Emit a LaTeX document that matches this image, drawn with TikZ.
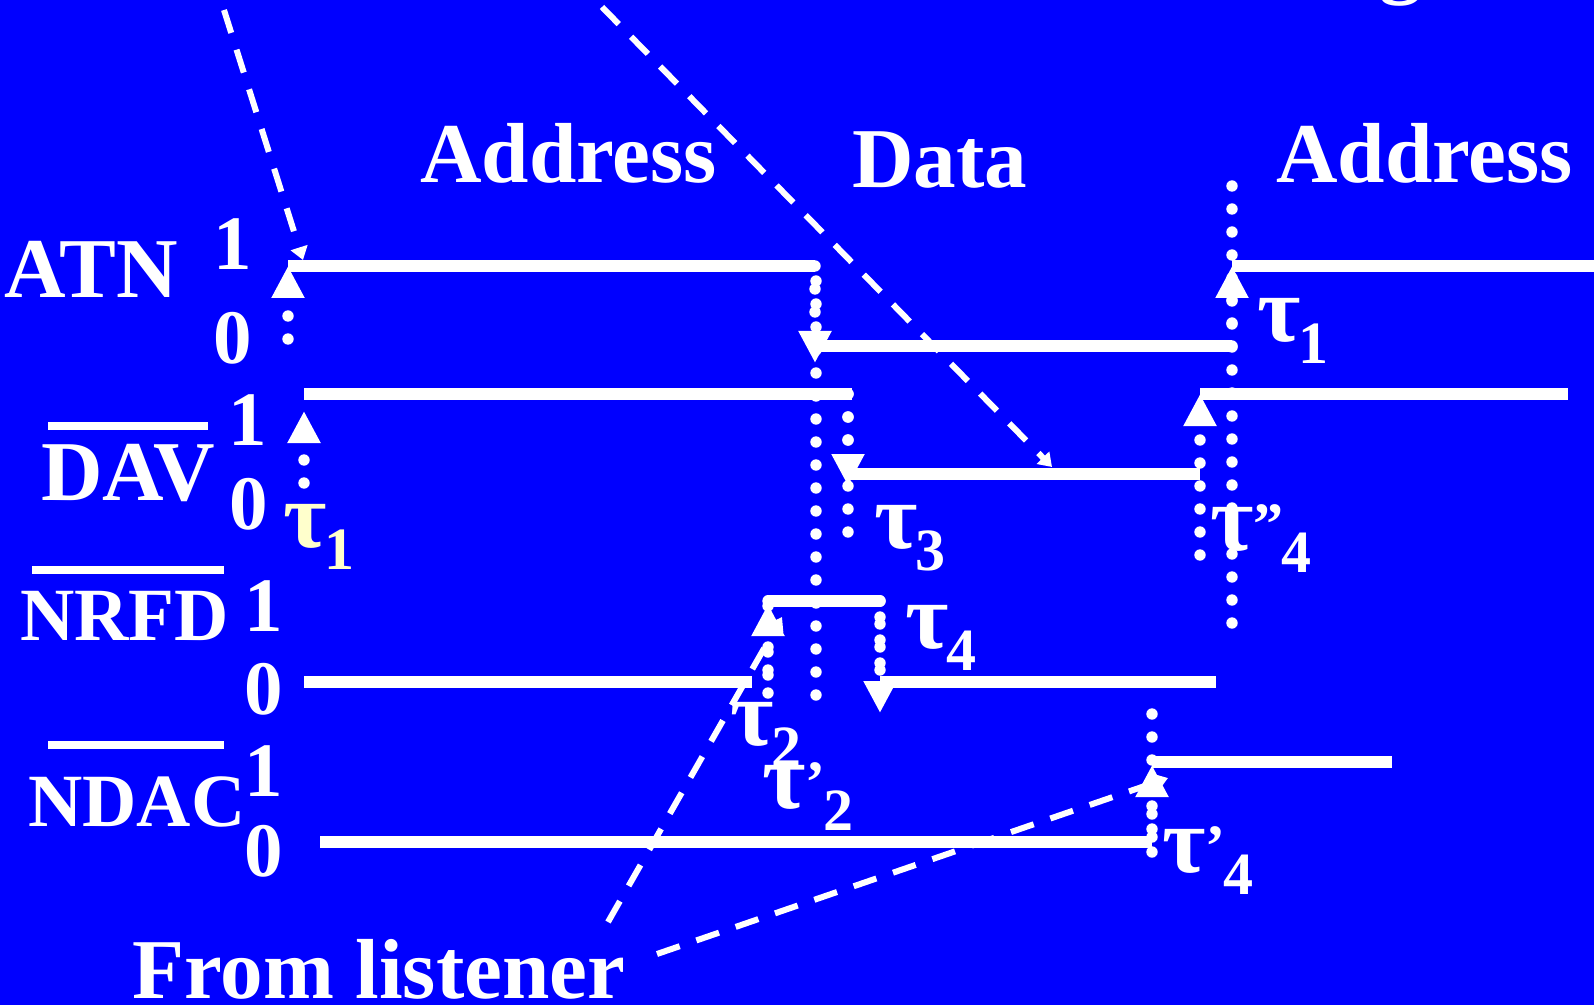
\documentclass[tikz,border=0pt]{standalone}
\usepackage{fontspec}
\setmainfont{Liberation Serif}
\usetikzlibrary{arrows.meta}
\definecolor{bluebg}{HTML}{0000FF}
\definecolor{paleyellow}{HTML}{FFFFCC}
\newcommand{\primelab}[1]{\raisebox{3pt}{\fontsize{30}{30}\selectfont #1}}
\newcommand{\taulab}[2]{{\fontsize{47}{47}\selectfont τ}#1\hspace{-1pt}\raisebox{-11pt}{\fontsize{30}{30}\selectfont #2}}
\tikzset{
  lab/.style={anchor=base west, inner sep=0pt, text=white, font=\fontsize{42.6}{42.6}\selectfont\bfseries},
  siglab/.style={lab, font=\fontsize{37.6}{37.6}\selectfont\bfseries},
  numlab/.style={lab, font=\fontsize{38.5}{38.5}\selectfont\bfseries},
  level/.style={draw=white, line width=5.7pt},
  bar/.style={draw=white, line width=4pt},
  dots/.style={draw=white, line width=5.7pt, line cap=round, dash pattern=on 0pt off 11.5pt},
  hint/.style={draw=white, line width=3pt, dash pattern=on 12pt off 8.8pt},
  up/.style={-{Triangle[length=16pt, width=15.5pt, fill=white]}},
  small/.style={-{Triangle[length=6.5pt, width=8.5pt, fill=white]}},
}
\begin{document}
\begin{tikzpicture}[x=0.5pt, y=-0.5pt]
    \path[fill=bluebg, use as bounding box] (0,0) rectangle (1594,1005);

    \coordinate (atnA) at (288,266);
    \coordinate (atnB) at (815,266);
    \coordinate (atnC) at (815,346);
    \coordinate (atnD) at (1232,346);
    \coordinate (atnE) at (1232,266);
    \coordinate (atnF) at (1594,266);
    \coordinate (davA) at (304,394);
    \coordinate (davB) at (852,394);
    \coordinate (davC) at (849,474);
    \coordinate (davD) at (1200,474);
    \coordinate (davE) at (1200,394);
    \coordinate (davF) at (1568,394);
    \coordinate (nrfdA) at (304,682);
    \coordinate (nrfdB) at (752,682);
    \coordinate (nrfdC) at (768,601);
    \coordinate (nrfdD) at (880,601);
    \coordinate (nrfdE) at (880,682);
    \coordinate (nrfdF) at (1216,682);
    \coordinate (ndacA) at (320,842);
    \coordinate (ndacB) at (1152,842);
    \coordinate (ndacC) at (1152,762);
    \coordinate (ndacD) at (1392,762);

    \draw[level] (atnA) -- (atnB);
    \draw[level] (atnC) -- (atnD);
    \draw[level] (atnE) -- (atnF);
    \draw[level] (davA) -- (davB);
    \draw[level] (davC) -- (davD);
    \draw[level] (davE) -- (davF);
    \draw[level] (nrfdA) -- (nrfdB);
    \draw[level, line cap=round] (nrfdC) -- (nrfdD);
    \draw[level] (nrfdE) -- (nrfdF);
    \draw[level] (ndacA) -- (ndacB);
    \draw[level] (ndacC) -- (ndacD);

    \coordinate (atnlow) at (288,339);
    \coordinate (davlow) at (304,483);
    \coordinate (davtip) at (304,411);
    \coordinate (busT) at (1232,186);
    \coordinate (busB) at (1232,623);
    \coordinate (dropT) at (816,281);
    \coordinate (dropB) at (816,695);
    \coordinate (atndown) at (815,363);
    \coordinate (davT) at (848,394);
    \coordinate (davdown) at (848,486);
    \coordinate (davend) at (848,532);
    \coordinate (davup) at (1200,555);
    \coordinate (riseA) at (768,693);
    \coordinate (riseB) at (768,675);
    \coordinate (risetip) at (768,604);
    \coordinate (fallB) at (880,617);
    \coordinate (fallbase) at (880,680);
    \coordinate (falltip) at (880,713);
    \coordinate (ackT) at (1152,714);
    \coordinate (ackB) at (1152,852);
    \coordinate (ackC) at (1152,837);
    \coordinate (acktip) at (1152,765);

    \draw[dots, up] (atnlow) -- (atnA);
    \draw[dots, up] (davlow) -- (davtip);
    \draw[dots] (busT) -- (busB);
    \draw[dots, up] (atnD) -- (atnE);
    \draw[dots] (dropT) -- (dropB);
    \draw[dots, up] (atnB) -- (atndown);
    \draw[dots] (davT) -- (davend);
    \draw[dots, up] (davT) -- (davdown);
    \draw[dots, up] (davup) -- (davE);
    \draw[dots, up] (riseA) -- (risetip);
    \draw[dots] (riseB) -- (risetip);
    \draw[dots, up] (nrfdD) -- (falltip);
    \draw[dots] (fallB) -- (fallbase);
    \draw[dots] (ackT) -- (ackB);
    \draw[dots, up] (ackC) -- (acktip);

    \coordinate (srcA) at (224,10);
    \coordinate (srcAtip) at (303,260);
    \coordinate (srcB) at (602,7);
    \coordinate (srcBtip) at (1052,467);
    \coordinate (srcC) at (608,922);
    \coordinate (srcCtip) at (782,617);
    \coordinate (srcD) at (657,954);
    \coordinate (srcDtip) at (1168,778);

    \draw[hint, small] (srcA) -- (srcAtip);
    \draw[hint, small] (srcB) -- (srcBtip);
    \draw[hint, small] (srcC) -- (srcCtip);
    \draw[hint, small] (srcD) -- (srcDtip);

    \node[lab] (addr1) at (420,183) {Address};
    \node[lab] (data) at (852,188) {Data};
    \node[lab] (addr2) at (1276,183) {Address};
    \node[lab] (cutg) at (1379,-12) {g};
    \node[lab] (from) at (132,998) {From listener};

    \node[lab] (atn) at (4,298) {ATN};
    \node[lab] (dav) at (41,500) {DAV};
    \node[siglab] (nrfd) at (20,640) {NRFD};
    \node[siglab] (ndac) at (28,826) {NDAC};

    \coordinate (davbarL) at (48,426);
    \coordinate (davbarR) at (208,426);
    \coordinate (nrfdbarL) at (32,570);
    \coordinate (nrfdbarR) at (224,570);
    \coordinate (ndacbarL) at (48,745);
    \coordinate (ndacbarR) at (224,745);
    \draw[bar] (davbarL) -- (davbarR);
    \draw[bar] (nrfdbarL) -- (nrfdbarR);
    \draw[bar] (ndacbarL) -- (ndacbarR);

    \node[numlab] (atn1) at (213,270) {1};
    \node[numlab] (atn0) at (213,364) {0};
    \node[numlab] (dav1) at (228,445) {1};
    \node[numlab] (dav0) at (229,529) {0};
    \node[numlab] (nrfd1) at (244,631) {1};
    \node[numlab] (nrfd0) at (244,714) {0};
    \node[numlab] (ndac1) at (244,796) {1};
    \node[numlab] (ndac0) at (244,876) {0};

    \node[lab, text=paleyellow] (t1a) at (283,547) {\taulab{}{1}};
    \node[lab] (t1b) at (1257,342) {\taulab{}{1}};
    \node[lab] (t3) at (874,548) {\taulab{}{3}};
    \node[lab] (t4b) at (1210,550) {\taulab{\primelab{”}}{4}};
    \node[lab] (t4) at (905,648) {\taulab{}{4}};
    \node[lab] (t2) at (730,745) {\taulab{}{2}};
    \node[lab] (t2b) at (762,808) {\taulab{\primelab{’}}{2}};
    \node[lab] (t4c) at (1162,872) {\taulab{\primelab{’}}{4}};
  \end{tikzpicture}
\end{document}
